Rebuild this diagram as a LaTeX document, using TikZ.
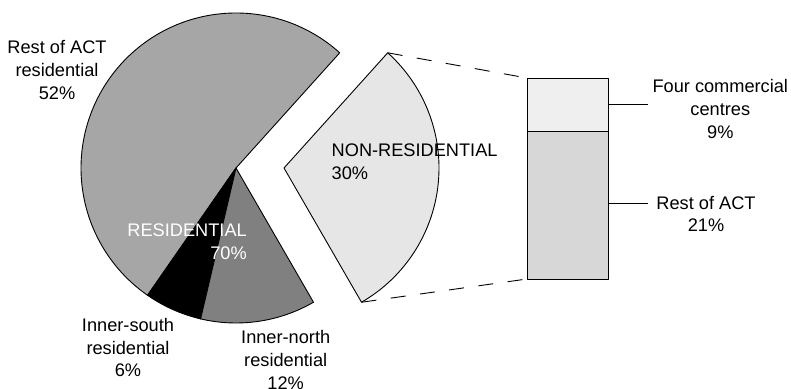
\documentclass[tikz,border=0pt]{standalone}
\usepackage{fontspec}
\setmainfont{Liberation Sans}
\usetikzlibrary{calc}
\definecolor{restres}{HTML}{A6A6A6}
\definecolor{northres}{HTML}{808080}
\definecolor{nonres}{HTML}{E6E6E6}
\definecolor{bartop}{HTML}{EFEFEF}
\definecolor{barbot}{HTML}{D7D7D7}
\begin{document}
\begin{tikzpicture}[x=1pt,y=1pt,
  slice/.style={draw=black,line width=0.9pt,line join=round},
  lbl/.style={inner sep=0pt,font=\fontsize{18.2pt}{22.7pt}\selectfont,align=center},
  zoomline/.style={draw=black,line width=0.9pt,dash pattern=on 15pt off 14.5pt},
  leader/.style={draw=black,line width=0.9pt}]
\useasboundingbox (0,0) rectangle (791,388);
% residential pie, centre (236,220), r=155
\coordinate (rc) at (236,220);
\coordinate (nc) at (284,220);
\filldraw[slice,fill=restres] (rc) -- ++(48:155) arc[start angle=48,end angle=235.2,radius=155] -- cycle;
\filldraw[slice,fill=black] (rc) -- ++(235.2:155) arc[start angle=235.2,end angle=256.8,radius=155] -- cycle;
\filldraw[slice,fill=northres] (rc) -- ++(256.8:155) arc[start angle=256.8,end angle=300,radius=155] -- cycle;
% non-residential exploded slice
\filldraw[slice,fill=nonres] (nc) -- ++(-60:155) arc[start angle=-60,end angle=48,radius=155] -- cycle;
\coordinate (ntop) at ($(nc)+(48:155)$);
\coordinate (nbot) at ($(nc)+(-60:155)$);
% bar
\filldraw[slice,fill=barbot] (527,109) rectangle (608,257);
\filldraw[slice,fill=bartop] (527,257) rectangle (608,310);
\coordinate (btl) at (527,310);
\coordinate (bbl) at (527,109);
\draw[zoomline] (ntop) -- (btl);
\draw[zoomline] (nbot) -- (bbl);
% leaders
\coordinate (l1a) at (608,284);
\coordinate (l1b) at (648,284);
\coordinate (l2a) at (608,185);
\coordinate (l2b) at (648,185);
\draw[leader] (l1a) -- (l1b);
\draw[leader] (l2a) -- (l2b);
% labels
\node[lbl] (rest) at (57,318) {Rest of ACT\\residential\\52\%};
\node[lbl,anchor=east,align=right,text=white] (res) at (247,146.5) {RESIDENTIAL\\70\%};
\node[lbl,anchor=west,align=left] (nonreslbl) at (331.5,226.3) {NON-RESIDENTIAL\\30\%};
\node[lbl] (south) at (128,40.3) {Inner-south\\residential\\6\%};
\node[lbl] (north) at (285.7,28) {Inner-north\\residential\\12\%};
\node[lbl] (four) at (720.3,279) {Four commercial\\centres\\9\%};
\node[lbl] (restact) at (706,174) {Rest of ACT\\21\%};
\end{tikzpicture}
\end{document}
